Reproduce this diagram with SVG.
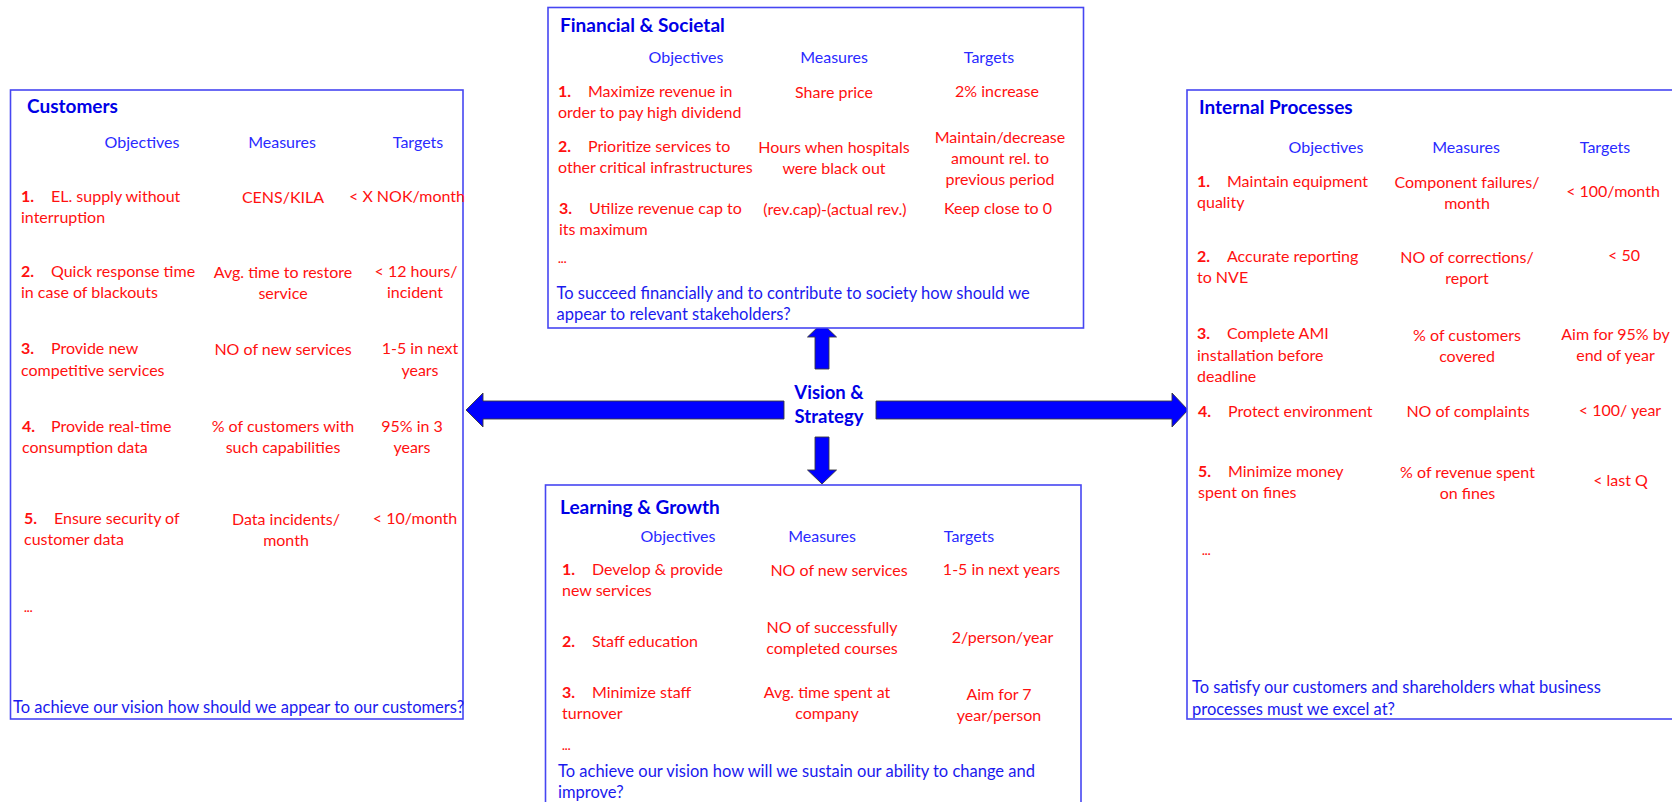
<svg xmlns="http://www.w3.org/2000/svg" width="1672" height="802" viewBox="0 0 1672 802">
<style>
text{font-family:Lato,"Liberation Sans",sans-serif;font-size:16px}
.box{fill:#fff;stroke:#4646f2;stroke-width:1.6}
.h{font-weight:bold;fill:#0000e6;font-size:19px}
.col{fill:#2a2aff;text-anchor:middle}
.r{fill:#ff1010}
.m{fill:#ff1010;text-anchor:middle}
.n{fill:#ff1010;font-weight:bold}
.q{fill:#1a1aee;font-size:16.5px}
.dots{fill:#ff1010;font-weight:bold;font-size:12px}
.vs{font-weight:bold;fill:#0000e6;font-size:18.5px;text-anchor:middle}
.arr{fill:#0000ff;stroke:#3a3a3a;stroke-width:0.9}
</style>
<rect width="1672" height="802" fill="#fff"/>
<g id="connectors">
<polygon class="arr" points="784,401 483,401 483,393 466,410 483,427 483,419 784,419"/>
<polygon class="arr" points="876,401 1172,401 1172,393 1188,410 1172,427 1172,419 876,419"/>
<polygon class="arr" points="815,369 815,337 807.5,337 822,323 836.5,337 829,337 829,369"/>
<polygon class="arr" points="815,437 829,437 829,470 836.5,470 822,484 807.5,470 815,470"/>
</g>
<g id="vision">
<text class="vs" x="829" y="399">Vision &amp;</text>
<text class="vs" x="829" y="423">Strategy</text>
</g>
<g id="customers">
<rect class="box" x="10.5" y="90" width="452.5" height="629"/>
<text class="h" x="27" y="113">Customers</text>
<text class="col" x="142" y="148">Objectives</text>
<text class="col" x="282" y="148">Measures</text>
<text class="col" x="418" y="148">Targets</text>
<text class="n" x="21" y="202">1.</text><text class="r" x="51" y="202">EL. supply without</text>
<text class="r" x="21" y="223">interruption</text>
<text class="m" x="283" y="203">CENS/KILA</text>
<text class="m" x="407" y="202">&lt; X NOK/month</text>
<text class="n" x="21" y="277">2.</text><text class="r" x="51" y="277">Quick response time</text>
<text class="r" x="21" y="298">in case of blackouts</text>
<text class="m" x="283" y="278">Avg. time to restore</text>
<text class="m" x="283" y="299">service</text>
<text class="m" x="416" y="277">&lt; 12 hours/</text>
<text class="m" x="415" y="298">incident</text>
<text class="n" x="21" y="354">3.</text><text class="r" x="51" y="354">Provide new</text>
<text class="r" x="21" y="376">competitive services</text>
<text class="m" x="283" y="355">NO of new services</text>
<text class="m" x="420" y="354">1-5 in next</text>
<text class="m" x="420" y="376">years</text>
<text class="n" x="22" y="432">4.</text><text class="r" x="51" y="432">Provide real-time</text>
<text class="r" x="22" y="453">consumption data</text>
<text class="m" x="283" y="432">% of customers with</text>
<text class="m" x="283" y="453">such capabilities</text>
<text class="m" x="412" y="432">95% in 3</text>
<text class="m" x="412" y="453">years</text>
<text class="n" x="24" y="524">5.</text><text class="r" x="54" y="524">Ensure security of</text>
<text class="r" x="24" y="545">customer data</text>
<text class="m" x="286" y="525">Data incidents/</text>
<text class="m" x="286" y="546">month</text>
<text class="m" x="415" y="524">&lt; 10/month</text>
<text class="dots" x="24" y="612">...</text>
<text class="q" x="13" y="713">To achieve our vision how should we appear to our customers?</text>
</g>
<g id="financial">
<rect class="box" x="548" y="7.5" width="535.5" height="320.5"/>
<text class="h" x="560" y="32">Financial &amp; Societal</text>
<text class="col" x="686" y="63">Objectives</text>
<text class="col" x="834" y="63">Measures</text>
<text class="col" x="989" y="63">Targets</text>
<text class="n" x="558" y="97">1.</text><text class="r" x="588" y="97">Maximize revenue in</text>
<text class="r" x="558" y="118">order to pay high dividend</text>
<text class="m" x="834" y="98">Share price</text>
<text class="m" x="997" y="97">2% increase</text>
<text class="n" x="558" y="152">2.</text><text class="r" x="588" y="152">Prioritize services to</text>
<text class="r" x="558" y="173">other critical infrastructures</text>
<text class="m" x="834" y="153">Hours when hospitals</text>
<text class="m" x="834" y="174">were black out</text>
<text class="m" x="1000" y="143">Maintain/decrease</text>
<text class="m" x="1000" y="164">amount rel. to</text>
<text class="m" x="1000" y="185">previous period</text>
<text class="n" x="559" y="214">3.</text><text class="r" x="589" y="214">Utilize revenue cap to</text>
<text class="r" x="559" y="235">its maximum</text>
<text class="m" x="835" y="215">(rev.cap)-(actual rev.)</text>
<text class="m" x="998" y="214">Keep close to 0</text>
<text class="dots" x="558" y="263">...</text>
<text class="q" x="556.5" y="299">To succeed financially and to contribute to society how should we</text>
<text class="q" x="556.5" y="320">appear to relevant stakeholders?</text>
</g>
<g id="learning">
<rect class="box" x="545.5" y="485" width="535.5" height="330"/>
<text class="h" x="560" y="514">Learning &amp; Growth</text>
<text class="col" x="678" y="542">Objectives</text>
<text class="col" x="822" y="542">Measures</text>
<text class="col" x="969" y="542">Targets</text>
<text class="n" x="562" y="575">1.</text><text class="r" x="592" y="575">Develop &amp; provide</text>
<text class="r" x="562" y="596">new services</text>
<text class="m" x="839" y="576">NO of new services</text>
<text class="m" x="1001.5" y="575">1-5 in next years</text>
<text class="n" x="562" y="647">2.</text><text class="r" x="592" y="647">Staff education</text>
<text class="m" x="832" y="633">NO of successfully</text>
<text class="m" x="832" y="654">completed courses</text>
<text class="m" x="1002.5" y="643">2/person/year</text>
<text class="n" x="562" y="698">3.</text><text class="r" x="592" y="698">Minimize staff</text>
<text class="r" x="562" y="719">turnover</text>
<text class="m" x="827" y="698">Avg. time spent at</text>
<text class="m" x="827" y="719">company</text>
<text class="m" x="999" y="700">Aim for 7</text>
<text class="m" x="999" y="721">year/person</text>
<text class="dots" x="562" y="750">...</text>
<text class="q" x="558" y="777">To achieve our vision how will we sustain our ability to change and</text>
<text class="q" x="558" y="798">improve?</text>
</g>
<g id="internal">
<rect class="box" x="1187" y="90" width="500" height="629"/>
<text class="h" x="1199" y="114">Internal Processes</text>
<text class="col" x="1326" y="153">Objectives</text>
<text class="col" x="1466" y="153">Measures</text>
<text class="col" x="1605" y="153">Targets</text>
<text class="n" x="1197" y="187">1.</text><text class="r" x="1227" y="187">Maintain equipment</text>
<text class="r" x="1197" y="208">quality</text>
<text class="m" x="1467" y="188">Component failures/</text>
<text class="m" x="1467" y="209">month</text>
<text class="m" x="1613" y="197">&lt; 100/month</text>
<text class="n" x="1197" y="262">2.</text><text class="r" x="1227" y="262">Accurate reporting</text>
<text class="r" x="1197" y="283">to NVE</text>
<text class="m" x="1467" y="263">NO of corrections/</text>
<text class="m" x="1467" y="284">report</text>
<text class="m" x="1624" y="261">&lt; 50</text>
<text class="n" x="1197" y="339">3.</text><text class="r" x="1227" y="339">Complete AMI</text>
<text class="r" x="1197" y="361">installation before</text>
<text class="r" x="1197" y="382">deadline</text>
<text class="m" x="1467" y="341">% of customers</text>
<text class="m" x="1467" y="362">covered</text>
<text class="m" x="1615.5" y="340">Aim for 95% by</text>
<text class="m" x="1615.5" y="361">end of year</text>
<text class="n" x="1198" y="417">4.</text><text class="r" x="1228" y="417">Protect environment</text>
<text class="m" x="1468" y="417">NO of complaints</text>
<text class="m" x="1620" y="416">&lt; 100/ year</text>
<text class="n" x="1198" y="477">5.</text><text class="r" x="1228" y="477">Minimize money</text>
<text class="r" x="1198" y="498">spent on fines</text>
<text class="m" x="1467.5" y="478">% of revenue spent</text>
<text class="m" x="1467.5" y="499">on fines</text>
<text class="m" x="1620.5" y="486">&lt; last Q</text>
<text class="dots" x="1202" y="555">...</text>
<text class="q" x="1192" y="693">To satisfy our customers and shareholders what business</text>
<text class="q" x="1192" y="715">processes must we excel at?</text>
</g>
</svg>
